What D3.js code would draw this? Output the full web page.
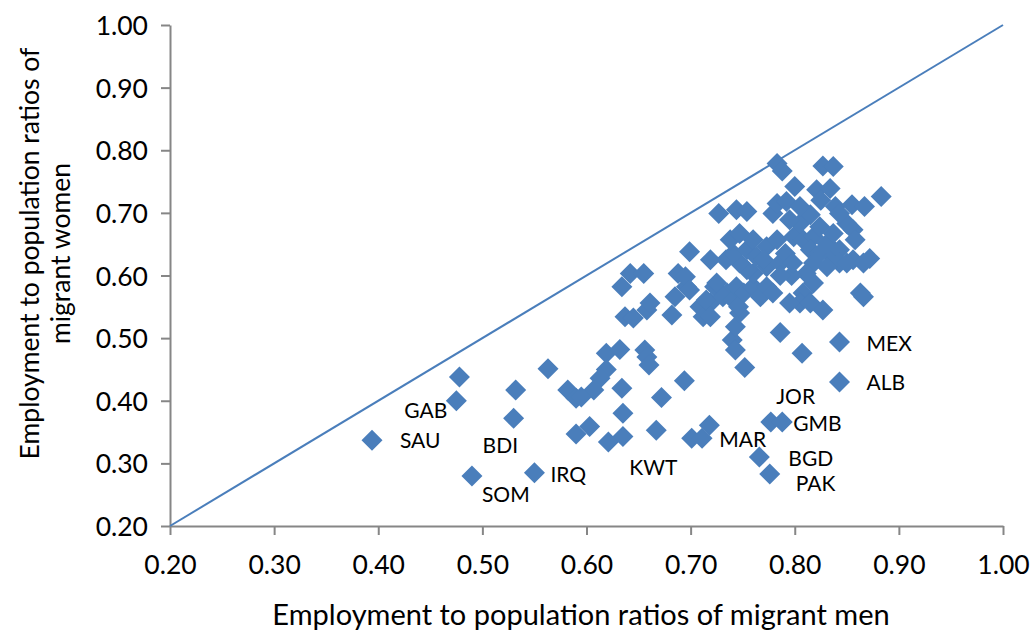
<!DOCTYPE html>
<html>
<head>
<meta charset="utf-8">
<script src="https://cdn.jsdelivr.net/npm/d3@7"></script>
<style>
  html, body { margin: 0; padding: 0; background: #fff; }
  svg { display: block; font-family: Lato, "Liberation Sans", sans-serif; }
</style>
</head>
<body>
<svg id="chart" width="1032" height="631"></svg>
<script>
// Employment to population ratios of migrant men (x) and migrant women (y), by country of origin
const menRatio = [
  0.394, 0.478, 0.475, 0.490, 0.550, 0.532, 0.530, 0.563, 0.582, 0.590,
  0.590, 0.603, 0.621, 0.635, 0.635, 0.634, 0.672, 0.694, 0.667, 0.701,
  0.711, 0.718, 0.777, 0.788, 0.766, 0.776, 0.843, 0.843, 0.807, 0.752,
  0.786, 0.740, 0.743, 0.619, 0.632, 0.656, 0.658, 0.660, 0.619, 0.613,
  0.607, 0.595, 0.743, 0.747, 0.634, 0.642, 0.655, 0.688, 0.696, 0.699,
  0.637, 0.645, 0.658, 0.661, 0.682, 0.685, 0.695, 0.699, 0.709, 0.712,
  0.719, 0.715, 0.719, 0.723, 0.725, 0.735, 0.731, 0.741, 0.746, 0.744,
  0.751, 0.760, 0.767, 0.773, 0.779, 0.760, 0.773, 0.754, 0.786, 0.747,
  0.734, 0.719, 0.741, 0.754, 0.738, 0.747, 0.760, 0.763, 0.773, 0.783,
  0.791, 0.799, 0.808, 0.818, 0.815, 0.824, 0.837, 0.843, 0.831, 0.837,
  0.824, 0.805, 0.795, 0.815, 0.850, 0.856, 0.858, 0.856, 0.872, 0.843,
  0.831, 0.818, 0.811, 0.818, 0.797, 0.808, 0.805, 0.795, 0.815, 0.827,
  0.863, 0.866, 0.866, 0.850, 0.779, 0.783, 0.792, 0.805, 0.839, 0.855,
  0.867, 0.843, 0.800, 0.821, 0.834, 0.883, 0.727, 0.744, 0.754, 0.783,
  0.788, 0.827, 0.837, 0.825, 0.770, 0.798, 0.786
];
const womenRatio = [
  0.337, 0.438, 0.400, 0.280, 0.285, 0.417, 0.372, 0.451, 0.417, 0.404,
  0.347, 0.359, 0.334, 0.343, 0.380, 0.420, 0.405, 0.432, 0.353, 0.340,
  0.340, 0.361, 0.366, 0.366, 0.310, 0.283, 0.494, 0.430, 0.476, 0.453,
  0.509, 0.497, 0.481, 0.476, 0.482, 0.481, 0.470, 0.457, 0.450, 0.436,
  0.417, 0.406, 0.518, 0.540, 0.582, 0.603, 0.603, 0.603, 0.582, 0.638,
  0.534, 0.532, 0.545, 0.556, 0.537, 0.566, 0.598, 0.577, 0.550, 0.534,
  0.556, 0.561, 0.534, 0.582, 0.588, 0.572, 0.566, 0.561, 0.550, 0.582,
  0.572, 0.582, 0.566, 0.582, 0.572, 0.603, 0.614, 0.609, 0.620, 0.620,
  0.625, 0.625, 0.635, 0.641, 0.657, 0.667, 0.657, 0.630, 0.646, 0.657,
  0.635, 0.662, 0.657, 0.662, 0.641, 0.635, 0.630, 0.641, 0.651, 0.667,
  0.678, 0.683, 0.689, 0.697, 0.683, 0.673, 0.657, 0.625, 0.627, 0.620,
  0.614, 0.620, 0.603, 0.588, 0.600, 0.572, 0.556, 0.556, 0.556, 0.545,
  0.572, 0.566, 0.620, 0.620, 0.699, 0.715, 0.718, 0.710, 0.710, 0.713,
  0.710, 0.699, 0.742, 0.737, 0.739, 0.726, 0.699, 0.705, 0.702, 0.779,
  0.767, 0.775, 0.774, 0.720, 0.625, 0.620, 0.600
];

// Countries named on the chart, with their ratios
const labelCodes = ["SAU", "GAB", "SOM", "IRQ", "BDI", "KWT", "MAR", "JOR", "GMB", "BGD", "PAK", "MEX", "ALB"];
const labelMen   = [0.394, 0.475, 0.490, 0.550, 0.530, 0.667, 0.718, 0.788, 0.788, 0.766, 0.776, 0.843, 0.843];
const labelWomen = [0.337, 0.400, 0.280, 0.285, 0.372, 0.353, 0.361, 0.366, 0.366, 0.310, 0.283, 0.494, 0.430];

const tickValues = [0.2, 0.3, 0.4, 0.5, 0.6, 0.7, 0.8, 0.9, 1.0];

const xTitle = "Employment to population ratios of migrant men";
const yTitleLines = ["Employment to population ratios of", "migrant women"];

// Layout
const plot = { left: 170, right: 1003, top: 25, bottom: 526 };
const markerColor = "#4a7ebb";
const axisColor = "#868686";

// Label placement relative to each named point (pixels)
const labelOffset = {
  SAU: [28, 8], GAB: [-52, 17], SOM: [10, 26], IRQ: [16, 9], BDI: [-31, 35],
  KWT: [-27, 45], MAR: [10, 22], JOR: [-6, -18], GMB: [11, 9], BGD: [29, 9],
  PAK: [26, 17], MEX: [27, 9], ALB: [27, 8]
};

const svg = d3.select("#chart");
svg.append("rect").attr("width", 1032).attr("height", 631).attr("fill", "#fff");

const x = d3.scaleLinear().domain([0.2, 1.0]).range([plot.left, plot.right]);
const y = d3.scaleLinear().domain([0.2, 1.0]).range([plot.bottom, plot.top]);

const fmt = d3.format(".2f");

// X axis
const xAxis = svg.append("g")
  .attr("transform", `translate(0,${plot.bottom})`)
  .call(d3.axisBottom(x).tickValues(tickValues).tickFormat(fmt).tickSizeInner(9).tickSizeOuter(0).tickPadding(20));
// Y axis
const yAxis = svg.append("g")
  .attr("transform", `translate(${plot.left},0)`)
  .call(d3.axisLeft(y).tickValues(tickValues).tickFormat(fmt).tickSizeInner(9).tickSizeOuter(0).tickPadding(13));

[xAxis, yAxis].forEach(g => {
  g.select(".domain").attr("stroke", axisColor).attr("stroke-width", 2);
  g.selectAll(".tick line").attr("stroke", axisColor).attr("stroke-width", 2);
  g.selectAll(".tick text")
    .attr("fill", "#000")
    .style("font-size", "26.5px")
    .style("font-family", "Lato, 'Liberation Sans', sans-serif");
});
yAxis.selectAll(".tick text").attr("dy", "0.36em");

// Line of equal ratios
svg.append("path")
  .attr("d", d3.line()([[x(0.2), y(0.2)], [x(1.0), y(1.0)]]))
  .attr("stroke", markerColor)
  .attr("stroke-width", 2)
  .attr("fill", "none");

// Diamond markers
const diamond = {
  draw(ctx, size) {
    const r = Math.sqrt(size / 2);
    ctx.moveTo(0, -r); ctx.lineTo(r, 0); ctx.lineTo(0, r); ctx.lineTo(-r, 0); ctx.closePath();
  }
};
const symbolPath = d3.symbol().type(diamond).size(2 * 10.5 * 10.5)();

svg.append("g")
  .selectAll("path")
  .data(d3.range(menRatio.length))
  .join("path")
  .attr("d", symbolPath)
  .attr("transform", i => `translate(${x(menRatio[i])},${y(womenRatio[i])})`)
  .attr("fill", markerColor);

// Country labels
svg.append("g")
  .selectAll("text")
  .data(labelCodes.map((c, i) => ({ c, m: labelMen[i], w: labelWomen[i] })))
  .join("text")
  .attr("x", d => x(d.m) + labelOffset[d.c][0])
  .attr("y", d => y(d.w) + labelOffset[d.c][1])
  .attr("font-size", 21)
  .attr("fill", "#000")
  .text(d => d.c);

// Axis titles
svg.append("text")
  .attr("x", 581)
  .attr("y", 625)
  .attr("text-anchor", "middle")
  .attr("font-size", 29)
  .attr("fill", "#000")
  .text(xTitle);

const yt = svg.append("text")
  .attr("transform", `translate(0,${(plot.top + plot.bottom) / 2 - 22}) rotate(-90)`)
  .attr("text-anchor", "middle")
  .attr("font-size", 26.5)
  .attr("fill", "#000");
yTitleLines.forEach((line, i) => {
  yt.append("tspan").attr("x", 0).attr("y", 39 + i * 31).text(line);
});
</script>
</body>
</html>
